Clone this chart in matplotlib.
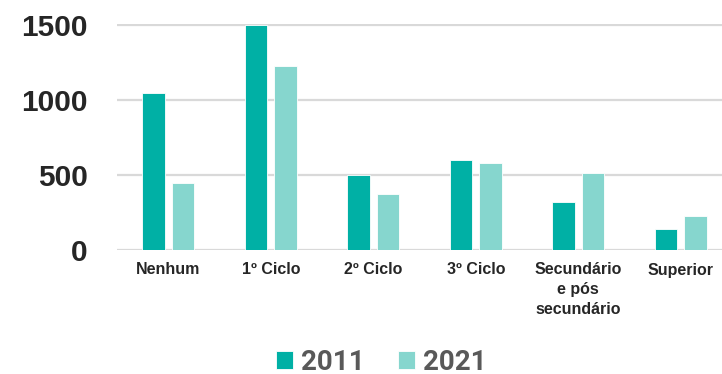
import numpy as np
import matplotlib.pyplot as plt

# Data
categories = ['Nenhum', '1º Ciclo', '2º Ciclo', '3º Ciclo',
              'Secundário\ne pós\nsecundário', 'Superior']
values_2011 = [1045, 1500, 500, 602, 320, 142]
values_2021 = [450, 1227, 373, 580, 515, 225]
yticks = [0, 500, 1000, 1500]

c2011 = '#00B0A5'
c2021 = '#86D6CE'

fig = plt.figure(figsize=(7.22, 3.74), dpi=100)
# plot area runs a little past the right edge, as in the reference
ax = fig.add_axes([117 / 722, 124 / 374, 615 / 722, 226.5 / 374])

x = np.arange(len(categories))
w = 0.221
off = 0.143
b1 = ax.bar(x - off, values_2011, w, color=c2011, edgecolor='white', linewidth=0.6,
            label='2011', zorder=3)
b2 = ax.bar(x + off, values_2021, w, color=c2021, edgecolor='white', linewidth=0.6,
            label='2021', zorder=3)

ax.set_xlim(-0.5, len(categories) - 0.5)
ax.set_ylim(0, 1510)
ax.set_yticks(yticks)
ax.set_yticklabels([str(v) for v in yticks])
ax.set_xticks(x)
ax.set_xticklabels(categories, linespacing=1.38)

for s in ax.spines.values():
    s.set_visible(False)
ax.grid(axis='y', color='#D9D9D9', linewidth=1.6, zorder=0)
ax.tick_params(axis='both', length=0)
ax.tick_params(axis='y', pad=21)
ax.tick_params(axis='x', pad=9)

for t in ax.get_yticklabels():
    t.set_fontfamily('Liberation Sans')
    t.set_fontweight('bold')
    t.set_fontsize(21.5)
    t.set_color('#262626')
for t in ax.get_xticklabels():
    t.set_fontfamily('Liberation Sans')
    t.set_fontweight('bold')
    t.set_fontsize(11.5)
    t.set_color('#262626')

leg = fig.legend(handles=[b1, b2], labels=['2011', '2021'],
                 loc='center', bbox_to_anchor=(381.5 / 722, 1 - 362 / 374),
                 ncol=2, frameon=False, handlelength=0.6, handleheight=0.6,
                 handletextpad=0.3, columnspacing=1.2,
                 prop={'family': 'Roboto', 'weight': 'bold', 'size': 20})
for t in leg.get_texts():
    t.set_color('#595959')

fig.savefig('out.png', dpi=100)
